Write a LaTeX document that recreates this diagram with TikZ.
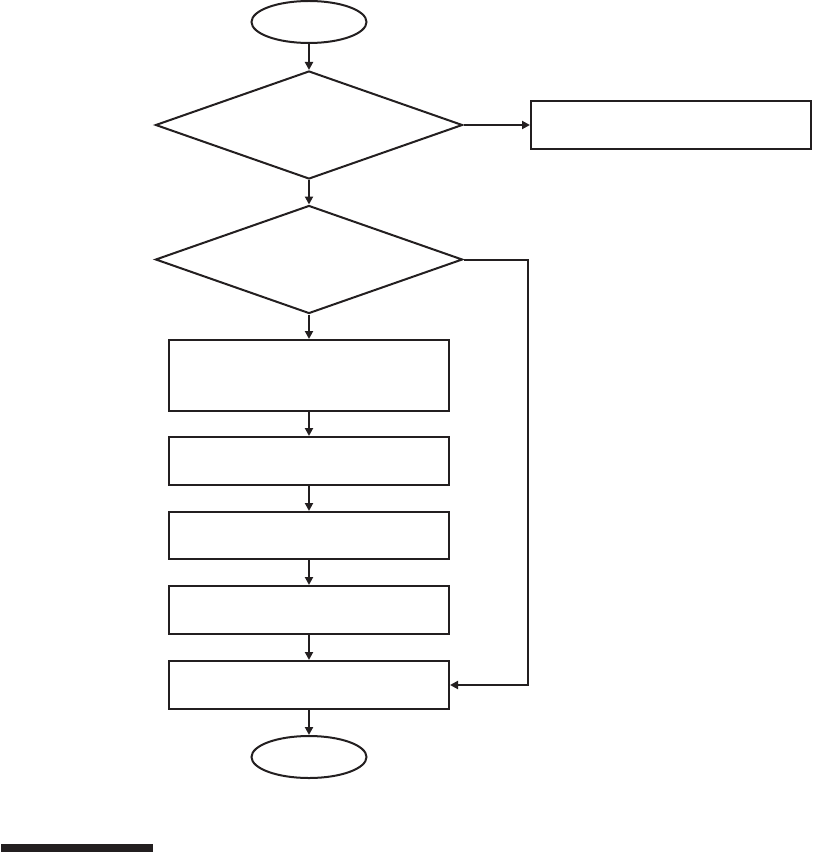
\documentclass[tikz,border=0pt]{standalone}
\usetikzlibrary{shapes.geometric,arrows.meta}
\definecolor{ink}{HTML}{231F20}
\begin{document}
\begin{tikzpicture}[x=1pt,y=-1pt,
  every node/.style={draw=ink,line width=2pt,inner sep=0pt},
  term/.style={ellipse,minimum width=115pt,minimum height=42pt},
  decision/.style={diamond,minimum width=307pt,minimum height=108pt},
  procbox/.style={rectangle,minimum width=280pt},
  conn/.style={draw=ink,line width=2pt,-{Triangle[length=8pt,width=8pt]}}]
\useasboundingbox (0,0) rectangle (813,853);
\node[term] (start) at (309,22) {};
\node[decision] (d1) at (309,125) {};
\node[procbox,minimum height=48pt] (side) at (671,125) {};
\node[decision] (d2) at (309,259.5) {};
\node[procbox,minimum height=71pt] (b1) at (309,375.5) {};
\node[procbox,minimum height=48pt] (b2) at (309,461) {};
\node[procbox,minimum height=47pt] (b3) at (309,535.5) {};
\node[procbox,minimum height=48pt] (b4) at (309,610) {};
\node[procbox,minimum height=48pt] (b5) at (309,685) {};
\node[term] (stop) at (309,757) {};
\coordinate (c1) at (528,259.5);
\coordinate (c2) at (528,685);
\draw[conn] (start) -- (d1);
\draw[conn] (d1.east) -- (side);
\draw[conn] (d1.south) -- (d2.north);
\draw[conn] (d2.south) -- (b1);
\draw[conn] (b1) -- (b2);
\draw[conn] (b2) -- (b3);
\draw[conn] (b3) -- (b4);
\draw[conn] (b4) -- (b5);
\draw[conn] (b5) -- (stop);
\draw[conn] (d2.east) -- (c1) -- (c2) -- (b5.east);
\fill[ink] (1,844) rectangle (153,852);
\end{tikzpicture}
\end{document}
